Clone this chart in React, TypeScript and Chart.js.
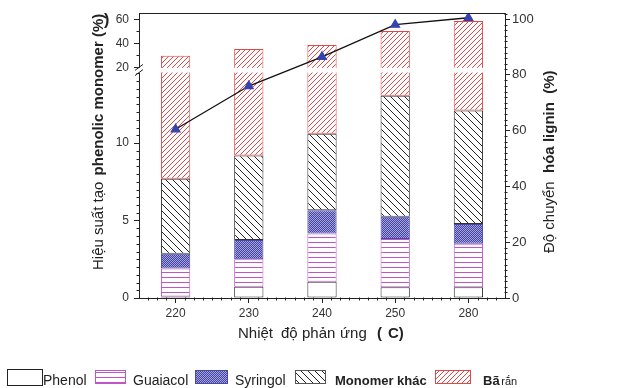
import React, { useEffect, useRef } from 'react';
import { Chart, registerables, LinearScale } from 'chart.js';

Chart.register(...registerables);

// ---- data ----
const categories = ['220', '230', '240', '250', '280'];
const phenol = [0.1, 0.73, 1.05, 0.7, 0.7];
const guaiacol = [1.8, 1.77, 3.12, 3.1, 2.8];
const syringol = [0.95, 1.24, 1.49, 1.45, 1.27];
const monomerKhac = [4.85, 5.46, 4.94, 7.8, 7.33];
const baRan = [22.0, 26.05, 28.0, 37.2, 46.5];
const conversion = [60.5, 76, 86.5, 98, 100.5];
const leftTicks = [0, 5, 10, 20, 40, 60];
const rightTicks = [0, 20, 40, 60, 80, 100];

// axis break definition (value domain)
const BRK = { low: 14.55, high: 20, lowFrac: 0.791, highFrac: 0.8095 };
const Y_MAX = 65.25;

function valueToFrac(v: number, max: number) {
  if (v <= BRK.low) return (v / BRK.low) * BRK.lowFrac;
  if (v >= BRK.high) return BRK.highFrac + ((v - BRK.high) / (max - BRK.high)) * (1 - BRK.highFrac);
  return BRK.lowFrac + ((v - BRK.low) / (BRK.high - BRK.low)) * (BRK.highFrac - BRK.lowFrac);
}
function fracToValue(f: number, max: number) {
  if (f <= BRK.lowFrac) return (f / BRK.lowFrac) * BRK.low;
  if (f >= BRK.highFrac) return BRK.high + ((f - BRK.highFrac) / (1 - BRK.highFrac)) * (max - BRK.high);
  return BRK.low + ((f - BRK.lowFrac) / (BRK.highFrac - BRK.lowFrac)) * (BRK.high - BRK.low);
}

class BrokenScale extends LinearScale {
  static id = 'brokenLinear';
  static defaults = LinearScale.defaults;
  getPixelForValue(value: any) {
    if (value === null || value === undefined || isNaN(value)) return NaN;
    const f = valueToFrac(value, (this as any).max);
    return (this as any).bottom - f * ((this as any).bottom - (this as any).top);
  }
  getValueForPixel(pixel: number) {
    const f = ((this as any).bottom - pixel) / ((this as any).bottom - (this as any).top);
    return fracToValue(f, (this as any).max);
  }
}
Chart.register(BrokenScale as any);

const FONT = 'Liberation Sans, Arial, sans-serif';

export default function App() {
  const ref = useRef<HTMLCanvasElement>(null);
  useEffect(() => {
    const canvas = ref.current!;
    const cctx = canvas.getContext('2d')!;

    const makePattern = (w: number, h: number, draw: (g: CanvasRenderingContext2D) => void) => {
      const c = document.createElement('canvas');
      c.width = w;
      c.height = h;
      const g = c.getContext('2d')!;
      g.fillStyle = '#fff';
      g.fillRect(0, 0, w, h);
      draw(g);
      return cctx.createPattern(c, 'repeat')!;
    };
    const pGuai = makePattern(4, 5, (g) => {
      g.fillStyle = '#c055c8';
      g.fillRect(0, 2, 4, 1);
    });
    const pSyr = makePattern(2, 2, (g) => {
      g.fillStyle = '#4444a4';
      g.fillRect(0, 0, 2, 2);
      g.fillStyle = '#a4a4da';
      g.fillRect(0, 0, 1, 1);
      g.fillRect(1, 1, 1, 1);
    });
    const diag = (s: number, color: string, back: boolean) =>
      makePattern(s, s, (g) => {
        g.strokeStyle = color;
        g.lineWidth = 1;
        g.beginPath();
        if (back) {
          g.moveTo(-1, -1); g.lineTo(s + 1, s + 1);
          g.moveTo(-1, s - 1); g.lineTo(1, s + 1);
          g.moveTo(s - 1, -1); g.lineTo(s + 1, 1);
        } else {
          g.moveTo(-1, s + 1); g.lineTo(s + 1, -1);
          g.moveTo(-1, 1); g.lineTo(1, -1);
          g.moveTo(s - 1, s + 1); g.lineTo(s + 1, s - 1);
        }
        g.stroke();
      });
    const pMono = diag(7, '#222', true);
    const pBa = diag(5, '#e04848', false);

    const decor = {
      id: 'decor',
      beforeDatasetDraw(chart: any, args: any) {
        if (args.meta.type !== 'line') return;
        const { ctx, chartArea } = chart;
        const y = chart.scales.y;
        const yTop = y.getPixelForValue(BRK.high) + 0.6;
        const yBot = y.getPixelForValue(BRK.low);
        ctx.save();
        ctx.fillStyle = '#fff';
        ctx.fillRect(chartArea.left - 2, yTop, chartArea.right - chartArea.left + 1, yBot - yTop);
        ctx.strokeStyle = '#222';
        ctx.lineWidth = 1;
        ctx.beginPath();
        const x = chartArea.left;
        [yTop - 0.5, yBot].forEach((yy) => {
          ctx.moveTo(x - 4, yy + 3);
          ctx.lineTo(x + 4, yy - 3);
        });
        ctx.stroke();
        ctx.restore();
      },
      afterDraw(chart: any) {
        const { ctx, chartArea } = chart;
        const y = chart.scales.y;
        const y2 = chart.scales.y2;
        const xs = chart.scales.x;
        ctx.save();
        ctx.strokeStyle = '#222';
        ctx.lineWidth = 1;
        // top frame
        ctx.beginPath();
        ctx.moveTo(chartArea.left, Math.round(chartArea.top) + 0.5);
        ctx.lineTo(chartArea.right, Math.round(chartArea.top) + 0.5);
        ctx.stroke();
        // minor ticks left
        ctx.beginPath();
        const L = Math.round(chartArea.left) + 0.5;
        for (let v = 0.5; v < BRK.low; v += 0.5) {
          if (Math.abs(v % 5) < 1e-6) continue;
          const p = Math.round(y.getPixelForValue(v)) + 0.5;
          ctx.moveTo(L - 3, p); ctx.lineTo(L, p);
        }
        [30, 50].forEach((v) => {
          const p = Math.round(y.getPixelForValue(v)) + 0.5;
          ctx.moveTo(L - 3, p); ctx.lineTo(L, p);
        });
        // minor ticks right
        const R = Math.round(chartArea.right) - 0.5;
        for (let v = 2; v <= 102; v += 2) {
          if (v % 20 === 0) continue;
          const p = Math.round(y2.getPixelForValue(v)) + 0.5;
          ctx.moveTo(R, p); ctx.lineTo(R + 3, p);
        }
        // minor ticks bottom
        const B = Math.round(chartArea.bottom) - 0.5;
        const p0 = xs.getPixelForValue(0);
        const step = (xs.getPixelForValue(1) - p0) / 8;
        for (let k = -5; k <= 40; k++) {
          if (k % 8 === 0) continue;
          const px = p0 + k * step;
          if (px < chartArea.left + 1 || px > chartArea.right - 1) continue;
          const xx = Math.round(px) + 0.5;
          ctx.moveTo(xx, B); ctx.lineTo(xx, B + 3);
        }
        ctx.stroke();

        // axis titles
        ctx.fillStyle = '#222';
        ctx.textBaseline = 'alphabetic';
        ctx.textAlign = 'left';
        ctx.font = `15px ${FONT}`;
        const words = ['Nhiệt', 'độ', 'phản', 'ứng'];
        const wx = [238, 281, 302, 340];
        words.forEach((w, i) => ctx.fillText(w, wx[i], 338));
        ctx.font = `bold 15px ${FONT}`;
        ctx.fillText('(', 377, 338);
        ctx.fillText('C)', 388, 338);

        // left title
        ctx.save();
        ctx.translate(103, 270);
        ctx.rotate(-Math.PI / 2);
        ctx.font = `15px ${FONT}`;
        const t1 = 'Hiệu suất tạo ';
        ctx.fillText(t1, 0, 0);
        const w1 = ctx.measureText(t1).width;
        ctx.font = `bold 15px ${FONT}`;
        ctx.fillText('phenolic monomer (%)', w1 + 2, 0);
        ctx.restore();
        ctx.font = `bold 16px ${FONT}`;
        ctx.fillText(')', 104, 25);

        // right title
        ctx.save();
        ctx.translate(554, 253);
        ctx.rotate(-Math.PI / 2);
        ctx.font = `15px ${FONT}`;
        const t2 = 'Độ chuyển  ';
        ctx.fillText(t2, 0, 0);
        const w2 = ctx.measureText(t2).width;
        ctx.font = `bold 15px ${FONT}`;
        ctx.fillText('hóa lignin  (%)', w2, 0);
        ctx.restore();

        // legend
        const box = (x: number, yy: number, w: number, h: number, fill: any, stroke: string) => {
          ctx.fillStyle = fill;
          ctx.fillRect(x, yy, w, h);
          ctx.strokeStyle = stroke;
          ctx.strokeRect(x + 0.5, yy + 0.5, w - 1, h - 1);
        };
        box(7, 369, 36, 17, '#fff', '#222');
        box(95, 370, 31, 14, pGuai, '#c055c8');
        box(195, 370, 33, 14, pSyr, '#4848a8');
        box(295, 370, 31, 14, pMono, '#555');
        box(435, 370, 36, 14, pBa, '#e04848');
        ctx.fillStyle = '#222';
        ctx.font = `14px ${FONT}`;
        ctx.fillText('Phenol', 43, 385);
        ctx.fillText('Guaiacol', 133, 385);
        ctx.fillText('Syringol', 235, 385);
        ctx.font = `bold 13px ${FONT}`;
        ctx.fillText('Monomer khác', 335, 385);
        ctx.fillText('Bã', 483, 385);
        const wb = ctx.measureText('Bã ').width;
        ctx.font = `11px ${FONT}`;
        ctx.fillText('rắn', 483 + wb - 2, 385);
        ctx.restore();
      },
    };

    const barCommon = {
      type: 'bar' as const,
      stack: 's',
      yAxisID: 'y',
      borderWidth: 1,
      borderSkipped: false,
      barPercentage: 0.4,
      categoryPercentage: 1,
      order: 1,
    };

    const chart = new Chart(canvas, {
      type: 'bar',
      data: {
        labels: categories,
        datasets: [
          { ...barCommon, label: 'Phenol', data: phenol, backgroundColor: '#fff', borderColor: '#333' },
          { ...barCommon, label: 'Guaiacol', data: guaiacol, backgroundColor: pGuai, borderColor: '#c055c8' },
          { ...barCommon, label: 'Syringol', data: syringol, backgroundColor: pSyr, borderColor: '#4848a8' },
          { ...barCommon, label: 'Monomer khác', data: monomerKhac, backgroundColor: pMono, borderColor: '#333' },
          { ...barCommon, label: 'Bã rắn', data: baRan, backgroundColor: pBa, borderColor: '#e04848' },
          {
            type: 'line',
            label: 'Độ chuyển hóa lignin',
            data: conversion,
            yAxisID: 'y2',
            borderColor: '#111',
            borderWidth: 1.3,
            tension: 0,
            pointStyle: 'triangle',
            pointRadius: 5,
            pointBackgroundColor: '#3344b0',
            pointBorderColor: '#3344b0',
            order: 0,
          } as any,
        ],
      },
      options: {
        responsive: false,
        animation: false,
        layout: { padding: { top: 13, left: 0, right: 0, bottom: 0 } },
        plugins: { legend: { display: false }, tooltip: { enabled: false } },
        scales: {
          x: {
            type: 'category',
            stacked: true,
            offset: true,
            grid: { display: true, drawOnChartArea: false, drawTicks: true, tickLength: 5, offset: false, color: '#222' },
            border: { display: true, color: '#222' },
            ticks: { color: '#333', font: { family: FONT, size: 12 }, padding: 3, maxRotation: 0 },
            afterFit: (s: any) => { s.height = 90; },
          },
          y: {
            type: 'brokenLinear' as any,
            position: 'left',
            stacked: true,
            min: 0,
            max: Y_MAX,
            grid: { display: true, drawOnChartArea: false, drawTicks: true, tickLength: 5, color: '#222' },
            border: { display: true, color: '#222' },
            ticks: { color: '#333', font: { family: FONT, size: 12 }, padding: 5 },
            afterBuildTicks: (s: any) => { s.ticks = leftTicks.map((v) => ({ value: v })); },
            afterFit: (s: any) => { s.width = 139; },
          } as any,
          y2: {
            type: 'linear',
            position: 'right',
            min: 0,
            max: 102.2,
            grid: { display: true, drawOnChartArea: false, drawTicks: true, tickLength: 5, color: '#222' },
            border: { display: true, color: '#222' },
            ticks: { color: '#333', font: { family: FONT, size: 13 }, padding: 2 },
            afterBuildTicks: (s: any) => { s.ticks = rightTicks.map((v) => ({ value: v })); },
            afterFit: (s: any) => { s.width = 123; },
          },
        },
      },
      plugins: [decor],
    } as any);
    return () => chart.destroy();
  }, []);

  return (
    <div style={{ position: 'absolute', left: 0, top: 0, width: 628, height: 388 }}>
      <canvas ref={ref} width={628} height={388} />
    </div>
  );
}
